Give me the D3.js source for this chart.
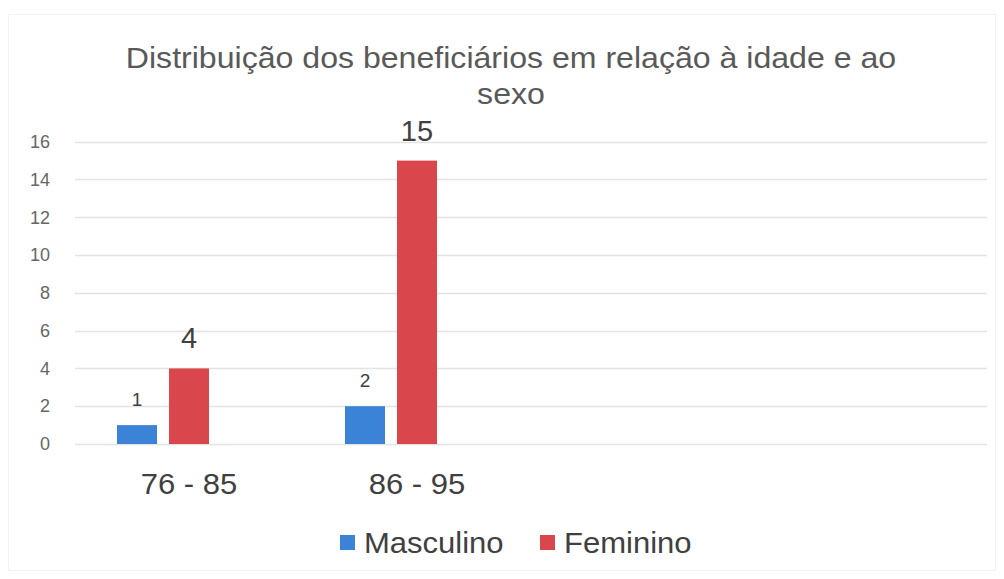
<!DOCTYPE html>
<html><head><meta charset="utf-8">
<script src="https://cdn.jsdelivr.net/npm/d3@7"></script>
<style>
html,body{margin:0;padding:0;background:#fff;}
svg text{font-family:"Liberation Sans",Arial,sans-serif;}
</style></head>
<body>
<svg id="chart" width="1004" height="579"></svg>
<script>
const titleLines = ["Distribuição dos beneficiários em relação à idade e ao", "sexo"];
const categories = ["76 - 85", "86 - 95"];
const categorySlots = 4;            // chart reserves four category positions
const seriesNames = ["Masculino", "Feminino"];
const seriesSlots = 3;              // third (empty) series slot in each cluster
const masculino = [1, 2];
const feminino = [4, 15];
const yTicks = [0, 2, 4, 6, 8, 10, 12, 14, 16];
const colors = ["#3b83d6", "#d9474d"];

const seriesValues = [masculino, feminino];
const svg = d3.select("#chart");
const stretch = 1.07;
function widen(sel, cx) {
  sel.attr("transform", `translate(${cx},0) scale(${stretch},1) translate(${-cx},0)`);
}

// faint chart border
svg.append("rect").attr("x", 8.5).attr("y", 14.5).attr("width", 987).attr("height", 556)
  .attr("fill", "none").attr("stroke", "#f2f2f2");

const pLeft = 75, pRight = 987, pTop = 141.7, pBottom = 444;
const y = d3.scaleLinear().domain([0, 16]).range([pBottom, pTop]);
const x0 = d3.scaleBand().domain(d3.range(categorySlots)).range([pLeft, pRight]).padding(0);
const x1 = d3.scaleBand().domain(d3.range(seriesSlots)).range([0, x0.bandwidth()])
  .paddingInner(0.2308).paddingOuter(0.8077);

// gridlines
svg.append("g").selectAll("line").data(yTicks).join("line")
  .attr("x1", pLeft).attr("x2", pRight)
  .attr("y1", d => Math.round(y(d)) + 0.5).attr("y2", d => Math.round(y(d)) + 0.5)
  .attr("stroke", "#e3e3e3").attr("stroke-width", 1.5);

// y axis labels
const yAxis = d3.axisLeft(y).tickValues(yTicks).tickSize(0).tickPadding(0);
const ya = svg.append("g").attr("transform", "translate(50,0)").call(yAxis);
ya.select(".domain").remove();
ya.selectAll("text").attr("font-size", 18).attr("fill", "#666666")
  .attr("font-family", "'Liberation Sans', Arial, sans-serif");

// x axis labels
const xAxis = d3.axisBottom(x0).tickSize(0).tickPadding(0)
  .tickFormat(i => categories[i] !== undefined ? categories[i] : "");
const xa = svg.append("g").attr("transform", `translate(0,${pBottom + 29})`).call(xAxis);
xa.select(".domain").remove();
xa.selectAll("text").attr("font-size", 29).attr("fill", "#404040")
  .attr("font-family", "'Liberation Sans', Arial, sans-serif");
xa.selectAll("text").attr("transform", `scale(${stretch},1)`);

// bars
const labelSizes = [19, 29];
seriesValues.forEach((vals, s) => {
  const g = svg.append("g");
  g.selectAll("rect").data(vals).join("rect")
    .attr("x", (d, i) => x0(i) + x1(s))
    .attr("y", d => y(d))
    .attr("width", x1.bandwidth())
    .attr("height", d => y(0) - y(d))
    .attr("fill", colors[s]);
  g.selectAll("text").data(vals).join("text")
    .attr("x", (d, i) => x0(i) + x1(s) + x1.bandwidth() / 2)
    .attr("y", d => y(d) - (s === 0 ? 19 : 20))
    .attr("text-anchor", "middle")
    .attr("font-size", labelSizes[s])
    .attr("fill", "#404040")
    .text(d => d);
});

// title
const title = svg.append("text").attr("text-anchor", "middle").attr("fill", "#595959").attr("font-size", 30);
title.selectAll("tspan").data(titleLines).join("tspan")
  .attr("x", 511).attr("y", (d, i) => 68 + i * 36).text(d => d);
widen(title, 511);

// legend
const legendItems = [{x: 340, name: seriesNames[0], c: colors[0]}, {x: 540, name: seriesNames[1], c: colors[1]}];
const lg = svg.append("g");
legendItems.forEach(it => {
  lg.append("rect").attr("x", it.x).attr("y", 535).attr("width", 15).attr("height", 15).attr("fill", it.c);
  const t = lg.append("text").attr("x", it.x + 24).attr("y", 553).attr("font-size", 29)
    .attr("fill", "#404040").text(it.name);
  widen(t, it.x + 24);
});
</script>
</body></html>
